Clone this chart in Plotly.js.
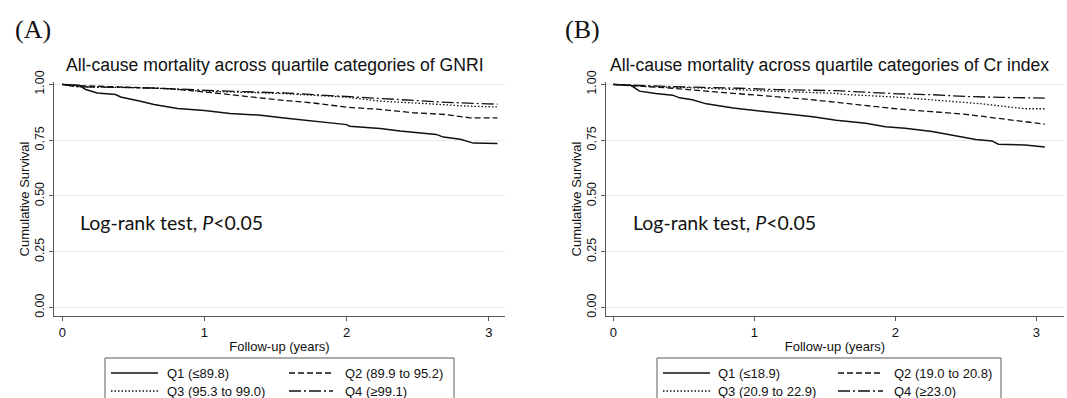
<!DOCTYPE html>
<html>
<head>
<meta charset="utf-8">
<script src="https://cdn.plot.ly/plotly-3.0.1.min.js"></script>
<style>html,body{margin:0;padding:0;background:#fff;}#chart{width:1067px;height:398px;}</style>
</head>
<body>
<div id="chart"></div>
<script>
// ---- Data ----
const panelLabels = ["(A)", "(B)"];
const titlesA = "All-cause mortality across quartile categories of GNRI";
const titlesB = "All-cause mortality across quartile categories of Cr index";
const namesA = ["Q1 (≤89.8)", "Q2 (89.9 to 95.2)", "Q3 (95.3 to 99.0)", "Q4 (≥99.1)"];
const namesB = ["Q1 (≤18.9)", "Q2 (19.0 to 20.8)", "Q3 (20.9 to 22.9)", "Q4 (≥23.0)"];
const xTicks = [0, 1, 2, 3];
const yTicks = [0, 0.25, 0.5, 0.75, 1];
const annotText = "Log-rank test, <i>P</i>&lt;0.05";

const tA1 = [0,0.12,0.165,0.246,0.375,0.41,0.55,0.645,0.81,1.0,1.18,1.395,1.56,1.81,2.0,2.02,2.235,2.375,2.515,2.63,2.68,2.8,2.89,3.06];
const sA1 = [1,0.996,0.977,0.962,0.955,0.944,0.925,0.91,0.892,0.883,0.87,0.862,0.85,0.832,0.82,0.813,0.803,0.791,0.784,0.776,0.764,0.754,0.737,0.735];
const tA2 = [0,0.1,0.4,0.785,1.07,1.21,1.35,1.56,1.765,2.0,2.235,2.47,2.70,2.87,3.06];
const sA2 = [1,0.995,0.989,0.98,0.962,0.952,0.943,0.928,0.917,0.898,0.888,0.873,0.865,0.85,0.85];
const tA3 = [0,0.1,0.645,0.926,1.16,1.56,2.0,2.235,2.585,2.845,3.06];
const sA3 = [1,0.99,0.984,0.972,0.967,0.959,0.943,0.925,0.913,0.903,0.899];
const tA4 = [0,0.1,0.645,0.93,1.16,1.56,2.0,2.235,2.47,2.70,2.99,3.06];
const sA4 = [1,0.99,0.984,0.975,0.97,0.962,0.945,0.935,0.928,0.92,0.913,0.912];

const tB1 = [0,0.125,0.185,0.30,0.42,0.47,0.56,0.66,0.85,1.035,1.225,1.415,1.58,1.79,1.93,2.07,2.26,2.45,2.57,2.685,2.73,2.92,3.04,3.06];
const sB1 = [1,0.996,0.97,0.959,0.952,0.94,0.931,0.913,0.894,0.882,0.87,0.855,0.84,0.826,0.81,0.804,0.789,0.768,0.753,0.747,0.732,0.729,0.72,0.72];
const tB2 = [0,0.15,0.42,0.66,0.89,1.13,1.37,1.58,1.79,2.02,2.26,2.5,2.73,2.92,3.02,3.06];
const sB2 = [1,0.995,0.983,0.97,0.959,0.948,0.934,0.92,0.905,0.89,0.878,0.866,0.848,0.832,0.822,0.822];
const tB3 = [0,0.15,0.66,0.89,1.13,1.58,1.65,2.02,2.26,2.615,2.92,3.06];
const sB3 = [1,0.993,0.983,0.976,0.97,0.96,0.955,0.943,0.932,0.913,0.891,0.891];
const tB4 = [0,0.42,0.89,1.16,1.58,2.02,2.26,2.5,2.75,3.06];
const sB4 = [1,0.99,0.983,0.977,0.972,0.958,0.954,0.946,0.942,0.939];

// ---- Styling ----
const W = 1067, H = 398;
const px = x => x / W;
const py = y => (H - y) / H;
const dashes = ["solid", "6px,3px", "1.5px,2px", "12px,3px,2px,3px"];
const widths = [1.5, 1.3, 1.3, 1.3];
const AX = "#5a5a5a";
const FONT = "Liberation Sans, Arial, sans-serif";

function mk(t, s, i, xa, ya) {
  return {x: t, y: s, type: "scatter", mode: "lines", xaxis: xa, yaxis: ya,
    line: {color: "#111", width: widths[i], dash: dashes[i]}, hoverinfo: "skip", showlegend: false};
}
const traces = [
  mk(tA1, sA1, 0, "x", "y"), mk(tA2, sA2, 1, "x", "y"), mk(tA3, sA3, 2, "x", "y"), mk(tA4, sA4, 3, "x", "y"),
  mk(tB1, sB1, 0, "x2", "y2"), mk(tB2, sB2, 1, "x2", "y2"), mk(tB3, sB3, 2, "x2", "y2"), mk(tB4, sB4, 3, "x2", "y2")
];

function xaxis(d, r, anchor) {
  return {domain: d, range: r, anchor: anchor, tickvals: xTicks, ticktext: xTicks.map(String),
    ticks: "outside", ticklen: 4, tickcolor: AX, showline: true, linecolor: AX, linewidth: 1,
    showgrid: false, zeroline: false, tickfont: {family: FONT, size: 13, color: "#111"},
    title: {text: "Follow-up (years)", font: {family: FONT, size: 13, color: "#111"}, standoff: 3}};
}
function yaxis(r, anchor) {
  return {domain: [py(316), py(82)], range: r, anchor: anchor, tickvals: yTicks, tickformat: ".2f",
    tickangle: -90, ticks: "outside", ticklen: 4, tickcolor: AX, showline: true, linecolor: AX, linewidth: 1,
    showgrid: true, gridcolor: "#ebebeb", gridwidth: 1, zeroline: false,
    tickfont: {family: FONT, size: 12.5, color: "#111"},
    title: {text: "Cumulative Survival", font: {family: FONT, size: 13, color: "#111"}, standoff: 0}};
}

const yr = [-0.038, 1.011];
const layout = {
  width: W, height: H, margin: {l: 0, r: 0, t: 0, b: 0},
  paper_bgcolor: "#fff", plot_bgcolor: "#fff", showlegend: false,
  xaxis: xaxis([px(54), px(505)], [-0.058, 3.113], "y"),
  yaxis: yaxis(yr, "x"),
  xaxis2: xaxis([px(606), px(1064)], [-0.052, 3.196], "y2"),
  yaxis2: yaxis(yr, "x2"),
  annotations: [], shapes: []
};

function addPanel(label, lx, title, tx, annX, names, boxX0, boxX1, c1, c2) {
  const A = layout.annotations, S = layout.shapes;
  A.push({text: label, xref: "paper", yref: "paper", x: px(lx), y: py(30), xanchor: "left", yanchor: "middle",
    showarrow: false, font: {family: "Liberation Serif, Times New Roman, serif", size: 26, color: "#111"}});
  A.push({text: title, xref: "paper", yref: "paper", x: px(tx), y: py(65.5), xanchor: "center", yanchor: "middle",
    showarrow: false, font: {family: FONT, size: 17.6, color: "#111"}});
  A.push({text: annotText, xref: "paper", yref: "paper", x: px(annX), y: py(222), xanchor: "left", yanchor: "middle",
    showarrow: false, font: {family: "Lato, Carlito, sans-serif", size: 19.5, color: "#111"}});
  S.push({type: "rect", xref: "paper", yref: "paper", x0: px(boxX0), x1: px(boxX1), y0: py(358), y1: py(410),
    line: {color: AX, width: 1}, fillcolor: "rgba(0,0,0,0)"});
  const rows = [373, 391];
  const cols = [c1, c2];
  names.forEach((n, i) => {
    const c = cols[i % 2], r = rows[Math.floor(i / 2)];
    S.push({type: "line", xref: "paper", yref: "paper", x0: px(c[0]), x1: px(c[1]), y0: py(r), y1: py(r),
      line: {color: "#111", width: widths[i], dash: dashes[i]}});
    A.push({text: n, xref: "paper", yref: "paper", x: px(c[2]), y: py(r), xanchor: "left", yanchor: "middle",
      showarrow: false, font: {family: FONT, size: 13, color: "#111"}});
  });
}
addPanel(panelLabels[0], 13, titlesA, 274.5, 78, namesA, 105, 454, [111, 158, 165], [289, 333, 343]);
addPanel(panelLabels[1], 563, titlesB, 829.5, 631, namesB, 657, 1001, [663, 710, 716], [838, 883, 892]);

Plotly.newPlot("chart", traces, layout, {staticPlot: true, displayModeBar: false});
</script>
</body>
</html>
